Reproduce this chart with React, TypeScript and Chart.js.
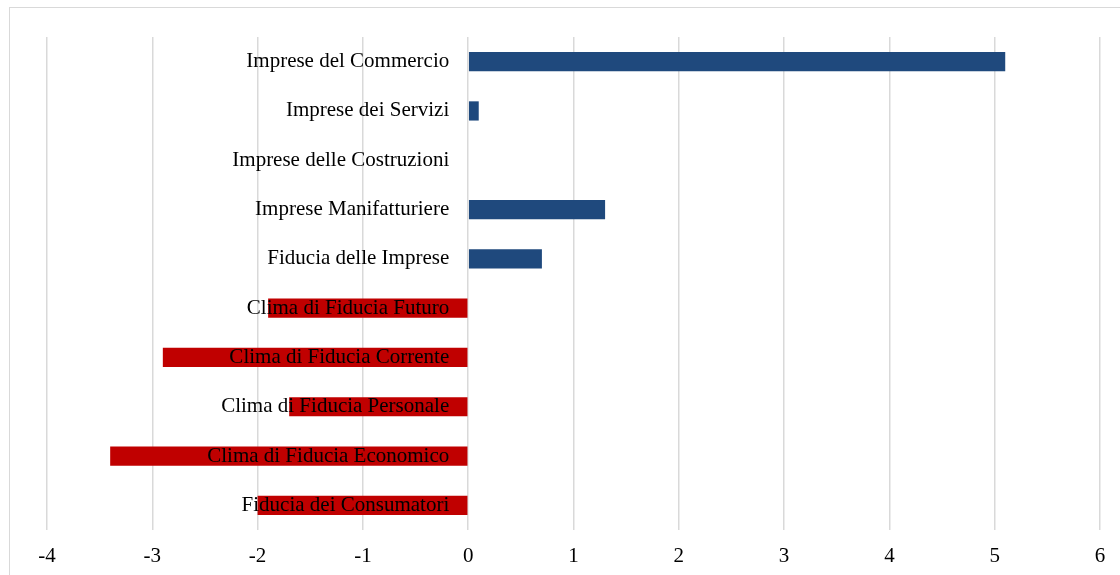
import React, { useEffect, useRef } from "react";
import { Chart, registerables } from "chart.js";

Chart.register(...registerables);

const categories = [
  "Imprese del Commercio",
  "Imprese dei Servizi",
  "Imprese delle Costruzioni",
  "Imprese Manifatturiere",
  "Fiducia delle Imprese",
  "Clima di Fiducia Futuro",
  "Clima di Fiducia Corrente",
  "Clima di Fiducia Personale",
  "Clima di Fiducia Economico",
  "Fiducia dei Consumatori",
];

const values = [5.1, 0.1, 0, 1.3, 0.7, -1.9, -2.9, -1.7, -3.4, -2.0];

const xMin = -4;
const xMax = 6;

const BLUE = "#1F497D";
const RED = "#C00000";
const FONT = "'Liberation Serif', 'Times New Roman', serif";

export default function App() {
  const ref = useRef<HTMLCanvasElement | null>(null);

  useEffect(() => {
    if (!ref.current) return;
    const chart = new Chart(ref.current, {
      type: "bar",
      data: {
        labels: categories,
        datasets: [
          {
            data: values,
            backgroundColor: values.map((v) => (v >= 0 ? BLUE : RED)),
            borderWidth: 0,
            barPercentage: 0.78,
            categoryPercentage: 0.5,
          },
        ],
      },
      options: {
        indexAxis: "y",
        animation: false,
        responsive: false,
        maintainAspectRatio: false,
        layout: { padding: { left: 47, right: 20, top: 37, bottom: 0 } },
        plugins: {
          legend: { display: false },
          tooltip: { enabled: false },
        },
        scales: {
          x: {
            type: "linear",
            min: xMin,
            max: xMax,
            afterFit: (s: any) => {
              s.height = 45;
            },
            ticks: {
              stepSize: 1,
              color: "#000",
              padding: 14,
              font: { family: FONT, size: 21 },
            },
            grid: { color: "#d9d9d9", lineWidth: 1.5, drawTicks: false },
            border: { display: false },
          },
          y: {
            type: "category",
            position: { x: -0.18 },
            ticks: {
              z: 1,
              color: "#000",
              padding: 0,
              font: { family: FONT, size: 21 },
            },
            grid: { display: false, drawTicks: false },
            border: { display: false },
          },
        },
      },
    });
    return () => chart.destroy();
  }, []);

  return (
    <div style={{ position: "fixed", left: 0, top: 0, width: 1120, height: 575, background: "#fff" }}>
      <div
        style={{
          position: "absolute",
          left: 9,
          top: 7,
          width: 1200,
          height: 600,
          border: "1px solid #d9d9d9",
        }}
      />
      <canvas ref={ref} width={1120} height={575} style={{ position: "absolute", left: 0, top: 0 }} />
    </div>
  );
}
